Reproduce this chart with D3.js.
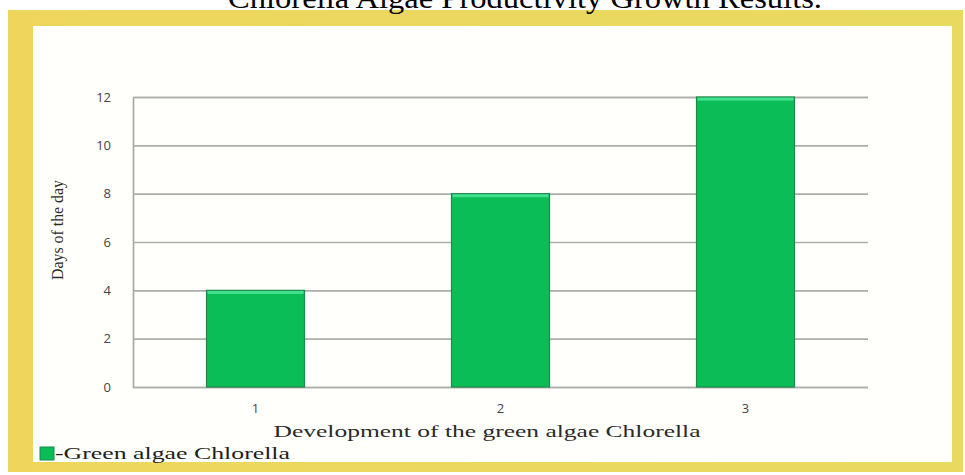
<!DOCTYPE html>
<html>
<head>
<meta charset="utf-8">
<script src="https://cdn.jsdelivr.net/npm/d3@7"></script>
<style>
  html, body { margin: 0; padding: 0; background: #ffffff; }
  svg { display: block; }
</style>
</head>
<body>
<svg id="chart" width="965" height="475"></svg>
<script>
// Chlorella growth stages and days taken to reach each one
const categories = ["1", "2", "3"];
const days = [4, 8, 12];
const yTicks = [0, 2, 4, 6, 8, 10, 12];
const seriesName = "-Green algae Chlorella";
const chartTitle = "Chlorella Algae Productivity Growth Results.";
const xTitle = "Development of the green algae Chlorella";
const yTitle = "Days of the day";

const svg = d3.select("#chart");

// Yellow frame around the white panel
const defs = svg.append("defs");
const frameGrad = defs.append("linearGradient").attr("id", "frameGrad")
  .attr("x1", 0).attr("x2", 1).attr("y1", 0).attr("y2", 0);
frameGrad.append("stop").attr("offset", "0%").attr("stop-color", "#eed65c");
frameGrad.append("stop").attr("offset", "50%").attr("stop-color", "#ebd85f");
frameGrad.append("stop").attr("offset", "100%").attr("stop-color", "#e8da5f");

svg.append("rect").attr("x", 8).attr("y", 10).attr("width", 955).attr("height", 462)
  .attr("fill", "url(#frameGrad)");
svg.append("rect").attr("x", 33).attr("y", 26).attr("width", 919).attr("height", 436)
  .attr("fill", "#fffffb");

// Title, partly running past the top edge of the page
svg.append("text")
  .attr("x", 525).attr("y", 8)
  .attr("text-anchor", "middle")
  .attr("font-family", "'Liberation Serif', 'Times New Roman', serif")
  .attr("font-size", 30)
  .attr("fill", "#000")
  .attr("textLength", 594).attr("lengthAdjust", "spacingAndGlyphs")
  .text(chartTitle);

// Plot area
const plot = { left: 133, right: 868, top: 97, bottom: 387 };

const x = d3.scaleBand()
  .domain(categories)
  .range([plot.left, plot.right])
  .paddingInner(0.6)
  .paddingOuter(0.3);

const y = d3.scaleLinear()
  .domain([0, 12])
  .range([plot.bottom, plot.top]);

// Horizontal gridlines with tick labels
const yAxis = d3.axisLeft(y)
  .tickValues(yTicks)
  .tickSize(-(plot.right - plot.left))
  .tickPadding(22)
  .tickFormat(d3.format("d"));

const gy = svg.append("g")
  .attr("transform", `translate(${plot.left},0)`)
  .call(yAxis);
gy.select(".domain").attr("stroke", "#a4a4a4").attr("stroke-width", 1.6);
gy.selectAll(".tick line").attr("stroke", "#adadad").attr("stroke-width", 1.6);
gy.selectAll(".tick text")
  .attr("fill", "#444")
  .attr("font-family", "'Open Sans', 'Liberation Sans', sans-serif")
  .attr("font-size", 13);

// Bars
const bars = svg.append("g");
bars.selectAll("rect.bar")
  .data(days)
  .join("rect")
  .attr("class", "bar")
  .attr("x", (d, i) => x(categories[i]))
  .attr("y", d => y(d))
  .attr("width", x.bandwidth())
  .attr("height", d => y(0) - y(d))
  .attr("fill", "#0abd57")
  .attr("stroke", "#1c8a4a")
  .attr("stroke-width", 1.2);

// Light highlight along each bar top
bars.selectAll("rect.hl")
  .data(days)
  .join("rect")
  .attr("class", "hl")
  .attr("x", (d, i) => x(categories[i]) + 1)
  .attr("y", d => y(d) + 0.6)
  .attr("width", x.bandwidth() - 2)
  .attr("height", 3)
  .attr("fill", "#44e090");

// Category labels
const xAxis = d3.axisBottom(x).tickSize(0).tickPadding(17);
const gx = svg.append("g")
  .attr("transform", `translate(0,${plot.bottom})`)
  .call(xAxis);
gx.select(".domain").remove();
gx.selectAll(".tick text")
  .attr("fill", "#444")
  .attr("font-family", "'Open Sans', 'Liberation Sans', sans-serif")
  .attr("font-size", 13);

// Axis titles
svg.append("text")
  .attr("x", 487).attr("y", 437)
  .attr("text-anchor", "middle")
  .attr("font-family", "'Liberation Serif', 'Times New Roman', serif")
  .attr("font-size", 17)
  .attr("fill", "#2a2a2a")
  .attr("textLength", 427).attr("lengthAdjust", "spacingAndGlyphs")
  .text(xTitle);

svg.append("text")
  .attr("transform", "translate(63,230) rotate(-90)")
  .attr("text-anchor", "middle")
  .attr("font-family", "'Liberation Serif', 'Times New Roman', serif")
  .attr("font-size", 17)
  .attr("fill", "#2a2a2a")
  .attr("textLength", 100).attr("lengthAdjust", "spacingAndGlyphs")
  .text(yTitle);

// Legend
svg.append("rect")
  .attr("x", 40).attr("y", 447).attr("width", 14).attr("height", 13)
  .attr("fill", "#0abd57").attr("stroke", "#1c8a4a").attr("stroke-width", 1);
svg.append("text")
  .attr("x", 55).attr("y", 459)
  .attr("font-family", "'Liberation Serif', 'Times New Roman', serif")
  .attr("font-size", 17)
  .attr("fill", "#1e1e1e")
  .attr("textLength", 235).attr("lengthAdjust", "spacingAndGlyphs")
  .text(seriesName);
</script>
</body>
</html>
